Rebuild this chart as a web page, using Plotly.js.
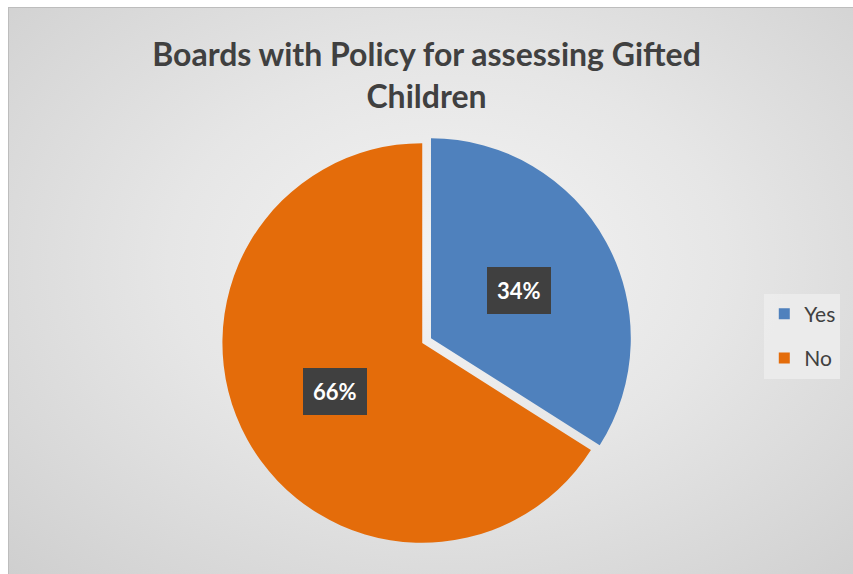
<!DOCTYPE html>
<html>
<head>
<meta charset="utf-8">
<script src="https://cdn.plot.ly/plotly-3.0.1.min.js"></script>
<style>
  html, body { margin: 0; padding: 0; background: #ffffff; }
  #frame {
    position: absolute; left: 8px; top: 7px; width: 845px; height: 567px;
    border-left: 1px solid #bdbdbd; border-top: 1px solid #bdbdbd;
    background: radial-gradient(ellipse at 52% 45%, #f4f4f4 0%, #e6e6e6 45%, #cfcfcf 100%);
  }
  #chart { position: absolute; left: 0; top: 0; width: 853px; height: 574px; }
</style>
</head>
<body>
<div id="frame"></div>
<div id="chart"></div>
<script>
const chartTitle = "Boards with Policy for assessing Gifted<br>Children";
const categories = ["Yes", "No"];
const shares = [34, 66];
const sliceColors = ["#4f81bd", "#e46c0a"];
const pulls = [0.05, 0];

const W = 853, H = 574;
const domX = [0.249, 0.741];
const domY = [0.037, 0.768];
const FONT = "Lato, 'Open Sans', sans-serif";

// pie geometry in pixels, used to place the percentage boxes from the data
const maxPull = Math.max.apply(null, pulls);
const domWpx = (domX[1] - domX[0]) * W, domHpx = (domY[1] - domY[0]) * H;
const rPx = Math.min(domWpx, domHpx) / 2 / (1 + maxPull);
const cxPx = (domX[0] + domX[1]) / 2 * W, cyPx = (domY[0] + domY[1]) / 2 * H;
const total = shares.reduce((a, b) => a + b, 0);
let cum = 0;
const annotations = shares.map((v, i) => {
  const mid = (cum + v / 2) / total * 2 * Math.PI; // clockwise from top
  cum += v;
  const rr = 0.5 * rPx + pulls[i] * rPx;
  const x = (cxPx + rr * Math.sin(mid)) / W;
  const y = (cyPx + rr * Math.cos(mid)) / H;
  return {
    xref: "paper", yref: "paper", x: x, y: y,
    xanchor: "center", yanchor: "middle", showarrow: false,
    text: "<b>" + Math.round(v / total * 100) + "%</b>",
    font: { family: FONT, size: 22, color: "#ffffff" },
    bgcolor: "#404040", borderpad: 10, borderwidth: 0
  };
});

const pieTrace = {
  type: "pie",
  labels: categories,
  values: shares,
  sort: false,
  direction: "clockwise",
  rotation: 0,
  pull: pulls,
  marker: { colors: sliceColors, line: { width: 0 } },
  textinfo: "none",
  hoverinfo: "label+percent",
  showlegend: false,
  domain: { x: domX, y: domY }
};

// legend entries for the slices (one per category, same colours)
const legendTraces = categories.map((c, i) => ({
  type: "scatter", mode: "markers",
  x: [null], y: [null],
  name: c, legendgroup: c,
  marker: { symbol: "square", size: 11, color: sliceColors[i] },
  hoverinfo: "skip"
}));

const layout = {
  width: W, height: H,
  paper_bgcolor: "rgba(0,0,0,0)",
  plot_bgcolor: "rgba(0,0,0,0)",
  margin: { l: 0, r: 0, t: 0, b: 0 },
  xaxis: { visible: false },
  yaxis: { visible: false },
  title: {
    text: "<b>" + chartTitle + "</b>",
    font: { family: FONT, size: 32, color: "#404040" },
    x: 0.5, xanchor: "center", y: 0.885, yanchor: "top"
  },
  showlegend: true,
  legend: {
    x: 0.896, xanchor: "left", y: 0.4146, yanchor: "middle",
    bgcolor: "rgba(236,236,236,0.9)",
    font: { family: FONT, size: 21, color: "#404040" },
    borderwidth: 0,
    tracegroupgap: 14
  },
  annotations: annotations
};

Plotly.newPlot("chart", [pieTrace].concat(legendTraces), layout, { displayModeBar: false, staticPlot: true });
</script>
</body>
</html>
